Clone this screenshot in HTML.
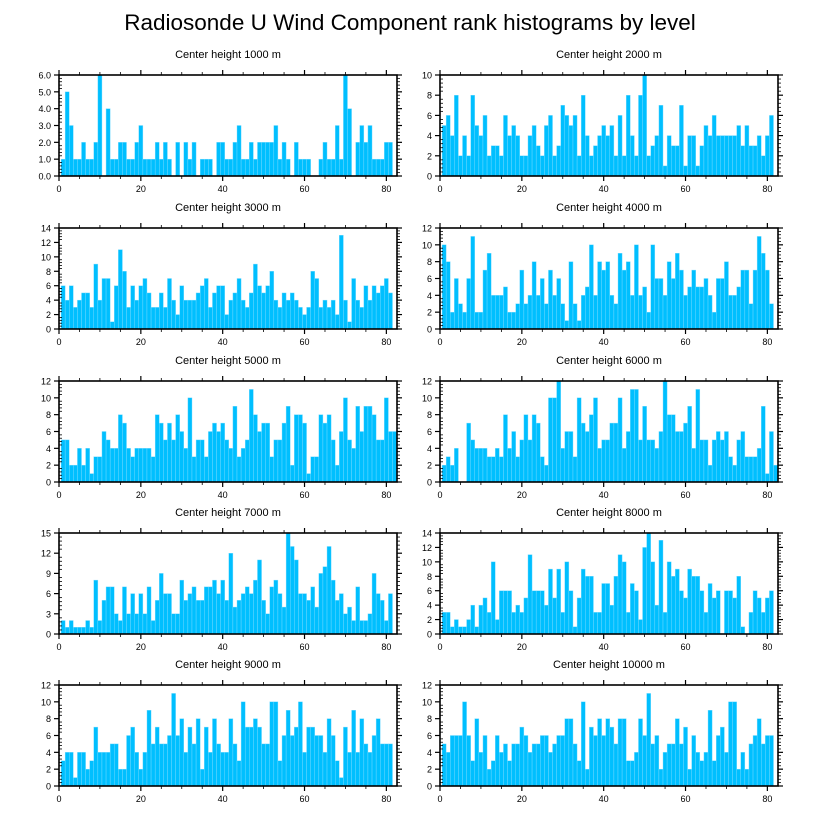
<!DOCTYPE html>
<html><head><meta charset="utf-8"><style>
html,body{margin:0;padding:0;background:#fff;}
svg{display:block;font-family:"Liberation Sans",sans-serif;}
</style></head><body>
<svg id="chart" width="818" height="824" viewBox="0 0 818 824" xmlns="http://www.w3.org/2000/svg">
<rect width="818" height="824" fill="#fff"/>
<text x="410" y="30" text-anchor="middle" font-size="22.5">Radiosonde U Wind Component rank histograms by level</text>
</svg>
<script>
const levels = ["1000","2000","3000","4000","5000","6000","7000","8000","9000","10000"];
const yMaxes = [6,10,14,12,12,12,15,14,12,12];
const ySteps = [1,2,2,2,2,2,3,2,2,2];
const xTicks = [0,20,40,60,80];
const h1000 = [1,5,3,1,1,2,1,1,2,6,0,4,1,1,2,2,1,1,2,3,1,1,1,2,1,2,1,0,2,0,2,1,2,0,1,1,1,0,2,2,1,1,2,3,1,1,2,1,2,2,2,2,3,1,2,1,0,2,1,1,1,0,0,1,2,1,1,3,1,6,4,0,2,3,2,3,1,1,1,2,2];
const h2000 = [5,6,4,8,2,4,2,8,5,4,6,2,3,3,2,6,4,5,4,2,2,4,5,3,2,5,6,2,3,7,6,5,6,2,8,4,2,3,4,5,4,5,2,6,2,8,4,2,8,10,2,3,4,7,1,4,3,3,7,1,4,4,1,3,5,4,6,4,4,4,4,4,5,3,5,3,3,4,2,4,6];
const h3000 = [6,4,6,3,4,5,5,3,9,4,7,7,1,6,11,8,3,6,4,6,7,5,3,3,5,3,7,4,2,6,4,4,4,5,6,7,3,5,6,6,2,4,5,7,4,3,5,9,6,5,6,8,4,3,5,4,5,4,3,2,3,8,7,3,4,3,4,2,13,4,1,7,4,3,6,4,6,5,6,7,5];
const h4000 = [10,8,2,6,3,2,6,11,2,2,7,9,4,4,4,5,2,2,3,7,3,4,8,4,6,3,7,4,6,3,1,8,3,1,4,5,10,4,8,7,8,4,3,9,7,8,4,10,4,5,2,10,6,6,4,8,6,9,7,4,5,7,5,5,6,4,2,6,6,8,4,4,5,7,7,3,7,11,9,7,3];
const h5000 = [5,5,2,2,4,2,4,1,3,3,6,5,4,4,8,7,4,3,4,4,4,4,3,8,7,5,7,5,8,6,4,10,3,5,5,3,6,7,6,7,5,4,9,3,4,5,11,8,6,7,7,3,5,5,7,9,2,8,8,7,1,3,3,8,7,8,5,2,6,10,5,4,9,6,9,9,8,5,5,10,6,6];
const h6000 = [2,3,2,4,0,0,7,5,4,4,4,3,3,4,3,8,4,6,3,5,8,5,8,7,3,2,10,10,12,4,6,6,3,10,7,6,8,10,4,5,5,7,7,10,4,6,11,11,5,9,5,5,4,6,12,8,8,6,6,7,9,4,11,5,5,2,5,6,5,6,3,2,5,6,3,3,3,4,9,1,6,2];
const h7000 = [2,1,2,1,1,1,2,1,8,2,5,7,7,3,2,7,3,6,3,6,3,7,2,5,9,6,6,3,3,8,5,6,7,5,5,7,7,8,6,8,5,12,4,5,6,7,6,8,11,5,3,7,8,6,4,15,13,11,6,6,5,7,4,9,10,13,8,5,6,3,4,2,7,2,2,3,9,6,5,2,6];
const h8000 = [3,3,1,2,1,1,2,4,1,4,5,3,10,2,6,6,6,3,4,3,5,11,6,6,6,4,9,5,9,3,10,6,1,5,9,8,8,3,3,7,7,4,8,11,10,3,7,6,2,12,14,10,4,13,3,10,8,9,6,5,9,8,8,6,3,7,5,6,0,6,6,5,8,1,0,3,6,5,3,5,6];
const h9000 = [3,4,4,1,4,4,2,3,7,4,4,4,5,5,2,2,6,7,4,2,4,9,5,7,5,5,6,11,6,8,4,7,5,8,2,7,4,8,5,4,4,8,5,3,10,7,7,8,7,5,5,10,10,3,6,9,6,7,10,4,7,7,6,6,4,8,6,3,1,7,4,9,4,8,5,4,6,8,5,5,5];
const h10000 = [5,4,6,6,6,10,6,3,8,4,6,2,3,6,4,5,3,5,5,7,6,4,5,5,6,6,4,5,6,6,8,8,5,3,10,2,7,6,8,6,8,7,5,8,8,3,3,4,8,6,11,5,6,2,4,5,5,8,5,7,2,6,4,3,4,9,3,6,7,4,10,10,2,4,2,5,6,8,5,6,6];
const seriesList = [h1000,h2000,h3000,h4000,h5000,h6000,h7000,h8000,h9000,h10000];

const NS = "http://www.w3.org/2000/svg";
const svg = document.getElementById('chart');
function mk(tag, attrs, parent){ const e=document.createElementNS(NS,tag); for(const k in attrs) e.setAttribute(k,attrs[k]); (parent||svg).appendChild(e); return e; }

const X_MAX = 82.6, PW = 338, PH = 101;
const lefts = [59, 440], tops = [75, 228, 381, 533, 685];

seriesList.forEach((vals, p) => {
  const L = lefts[p % 2], T = tops[Math.floor(p / 2)], B = T + PH;
  const ymax = yMaxes[p], ystep = ySteps[p];
  const xs = v => L + v / X_MAX * PW;
  const ys = v => B - v / ymax * PH;
  const g = mk('g', {});
  
  
  const t = mk('text', {x: L + PW/2, y: T - 17, 'text-anchor':'middle', 'font-size':'11'}, g);
  t.textContent = 'Center height ' + levels[p] + ' m';
  
  
  vals.forEach((v, i) => {
    if (v <= 0) return;
    const c = i + 1;
    const r = mk('rect', {x: xs(c - 0.5), y: ys(v), width: xs(c + 0.5) - xs(c - 0.5), height: B - ys(v), fill:'#00bfff', stroke:'#7fdcff', 'stroke-width':'0.4'}, g);
    
    
  });
  const fr = mk('rect', {x:L, y:T, width:PW, height:PH, fill:'none', stroke:'#000', 'stroke-width':'1.6'}, g);
  
  
  for (let v = 0; v <= ymax + 1e-9; v += ystep) {
    const y = ys(v);
    mk('line', {x1:L-5, y1:y, x2:L, y2:y, stroke:'#000', 'stroke-width':'1.2'}, g);
    mk('line', {x1:L+PW, y1:y, x2:L+PW+5, y2:y, stroke:'#000', 'stroke-width':'1.2'}, g);
    const lab = mk('text', {x:L-8, y:y+3.5, 'text-anchor':'end', 'font-size':'9'}, g);
    lab.textContent = p === 0 ? v.toFixed(1) : String(v);
    
    
    if (v + ystep <= ymax + 1e-9) {
      for (let k = 1; k < 5; k++) {
        const yy = ys(v + ystep * k / 5);
        mk('line', {x1:L, y1:yy, x2:L+3, y2:yy, stroke:'#000', 'stroke-width':'0.8'}, g);
        mk('line', {x1:L+PW, y1:yy, x2:L+PW+3, y2:yy, stroke:'#000', 'stroke-width':'0.8'}, g);
      }
    }
  }
  for (let v = 0; v <= 80; v += 5) {
    const x = xs(v), major = v % 20 === 0;
    mk('line', {x1:x, y1:T-(major?5:3), x2:x, y2:T, stroke:'#000', 'stroke-width':major?'1.2':'0.8'}, g);
    mk('line', {x1:x, y1:B, x2:x, y2:B+(major?5:3), stroke:'#000', 'stroke-width':major?'1.2':'0.8'}, g);
  }
  xTicks.forEach(v => {
    const lab = mk('text', {x: xs(v), y: B + 16, 'text-anchor':'middle', 'font-size':'9'}, g);
    lab.textContent = String(v);
    
    
  });
});
</script>
</body></html>
